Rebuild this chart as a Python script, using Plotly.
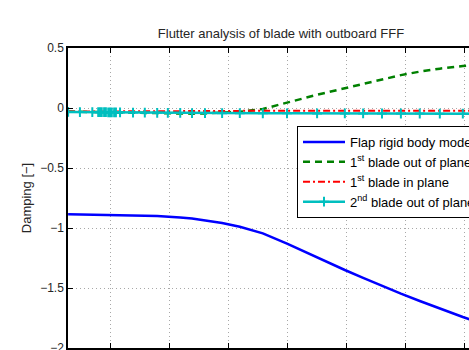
import plotly.graph_objects as go

# ---- data ----
wind_speed = [2.9, 4.9, 7.0, 8.0, 8.3, 8.6, 9.0, 9.3, 9.7, 10.0, 10.3, 10.7, 11.0, 11.7,
              13.9, 15.9, 18.0, 19.8, 21.9, 23.9, 26.1, 29.0, 32.0, 35.9, 40.0, 45.1,
              49.8, 52.9, 56.1, 59.3, 62.5, 65.9, 69.8, 71.5]

flap_rigid = [-0.886, -0.887, -0.888, -0.889, -0.889, -0.889, -0.890, -0.890, -0.890, -0.890,
              -0.891, -0.891, -0.891, -0.892, -0.895, -0.898, -0.901, -0.905, -0.912, -0.921,
              -0.935, -0.958, -0.990, -1.045, -1.130, -1.247, -1.350, -1.415, -1.482, -1.547,
              -1.608, -1.672, -1.742, -1.770]

blade1_oop = [-0.030, -0.032, -0.034, -0.035, -0.036, -0.036, -0.037, -0.037, -0.038, -0.038,
              -0.039, -0.039, -0.040, -0.040, -0.042, -0.045, -0.047, -0.048, -0.048, -0.047,
              -0.045, -0.040, -0.032, -0.008, 0.045, 0.110, 0.165, 0.200, 0.240, 0.274,
              0.303, 0.328, 0.350, 0.357]

blade1_ip = [-0.030, -0.030, -0.030, -0.030, -0.030, -0.030, -0.030, -0.030, -0.029, -0.029,
             -0.029, -0.029, -0.029, -0.029, -0.028, -0.028, -0.027, -0.027, -0.026, -0.026,
             -0.025, -0.025, -0.024, -0.023, -0.022, -0.022, -0.022, -0.022, -0.022, -0.022,
             -0.022, -0.022, -0.022, -0.022]

blade2_oop = [-0.033, -0.034, -0.034, -0.035, -0.035, -0.035, -0.035, -0.035, -0.036, -0.036,
              -0.036, -0.036, -0.036, -0.037, -0.038, -0.039, -0.040, -0.041, -0.041, -0.042,
              -0.042, -0.043, -0.043, -0.044, -0.044, -0.045, -0.045, -0.045, -0.046, -0.046,
              -0.046, -0.047, -0.047, -0.047]

series_names = ["Flap rigid body mode",
                "1<sup>st</sup> blade out of plane",
                "1<sup>st</sup> blade in plane",
                "2<sup>nd</sup> blade out of plane"]

x_ticks = [10, 20, 30, 40, 50, 60, 70]
y_ticks = [0.5, 0, -0.5, -1, -1.5, -2]
y_ticktext = ["0.5", "0", "\u22120.5", "\u22121", "\u22121.5", "\u22122"]

FONT = "Liberation Sans, Arial, Helvetica, sans-serif"
TXT = "#262626"

FIG_W = 560          # figure is wider than the 469 px window; the right part is cropped
PLOT_L, PLOT_R = 68, 510

fig = go.Figure()
fig.add_trace(go.Scatter(x=wind_speed, y=flap_rigid, name=series_names[0], mode="lines",
                         line=dict(color="#0000ff", width=2.5)))
fig.add_trace(go.Scatter(x=wind_speed, y=blade1_oop, name=series_names[1], mode="lines",
                         line=dict(color="#008000", width=2.5, dash="7px,5px")))
fig.add_trace(go.Scatter(x=wind_speed, y=blade1_ip, name=series_names[2], mode="lines",
                         line=dict(color="#ff0000", width=2, dash="7px,3px,2px,3px")))
fig.add_trace(go.Scatter(x=wind_speed, y=blade2_oop, name=series_names[3], mode="lines+markers",
                         line=dict(color="#00bfbf", width=2.5),
                         marker=dict(symbol="cross-thin", size=7,
                                     line=dict(color="#00bfbf", width=2))))
# helper trace for the top axis frame
fig.add_trace(go.Scatter(x=[], y=[], xaxis="x2", showlegend=False, hoverinfo="skip"))

axis_common = dict(showline=True, linecolor="#000000", linewidth=1.5,
                   ticks="inside", ticklen=5, tickcolor="#000000",
                   tickfont=dict(family=FONT, size=12, color=TXT))

px_per_unit = 5.9
x0 = 2.88
x1 = x0 + (PLOT_R - PLOT_L) / px_per_unit

fig.update_layout(
    width=FIG_W, height=350, autosize=False,
    margin=dict(l=PLOT_L, r=FIG_W - PLOT_R, t=48, b=2, pad=0),
    paper_bgcolor="white", plot_bgcolor="white",
    font=dict(family=FONT, size=13, color=TXT),
    title=dict(text="Flutter analysis of blade with outboard FFF",
               x=(281 - PLOT_L) / (PLOT_R - PLOT_L), xref="paper", xanchor="center",
               y=1 - 33 / 350, yref="container", yanchor="middle",
               font=dict(family=FONT, size=13, color=TXT)),
    xaxis=dict(range=[x0, x1], tickvals=x_ticks, showticklabels=False,
               showgrid=True, gridcolor="#a8a8a8", griddash="1px,3px", gridwidth=1,
               zeroline=False, mirror=False, automargin=False, **axis_common),
    xaxis2=dict(overlaying="x", matches="x", side="top", tickvals=x_ticks,
                showticklabels=False, showgrid=False, zeroline=False,
                automargin=False, **axis_common),
    yaxis=dict(range=[-2, 0.5], tickvals=y_ticks, ticktext=y_ticktext,
               showgrid=True, gridcolor="#a8a8a8", griddash="1px,3px", gridwidth=1,
               zeroline=False, mirror=False, automargin=False, ticklabeloverflow="allow",
               title=dict(text="Damping [\u2212]", font=dict(family=FONT, size=13, color=TXT),
                          standoff=6),
               **axis_common),
    legend=dict(x=(297 - PLOT_L) / (PLOT_R - PLOT_L), y=0.74, xanchor="left", yanchor="top",
                bgcolor="white", bordercolor="#000000", borderwidth=1,
                font=dict(family=FONT, size=13, color="#000000"),
                itemwidth=42, tracegroupgap=0),
    showlegend=True,
)

fig.write_html(
    "out.html",
    post_script="document.documentElement.style.overflow='hidden';"
                "document.body.style.overflow='hidden';document.body.style.margin='0';",
)
